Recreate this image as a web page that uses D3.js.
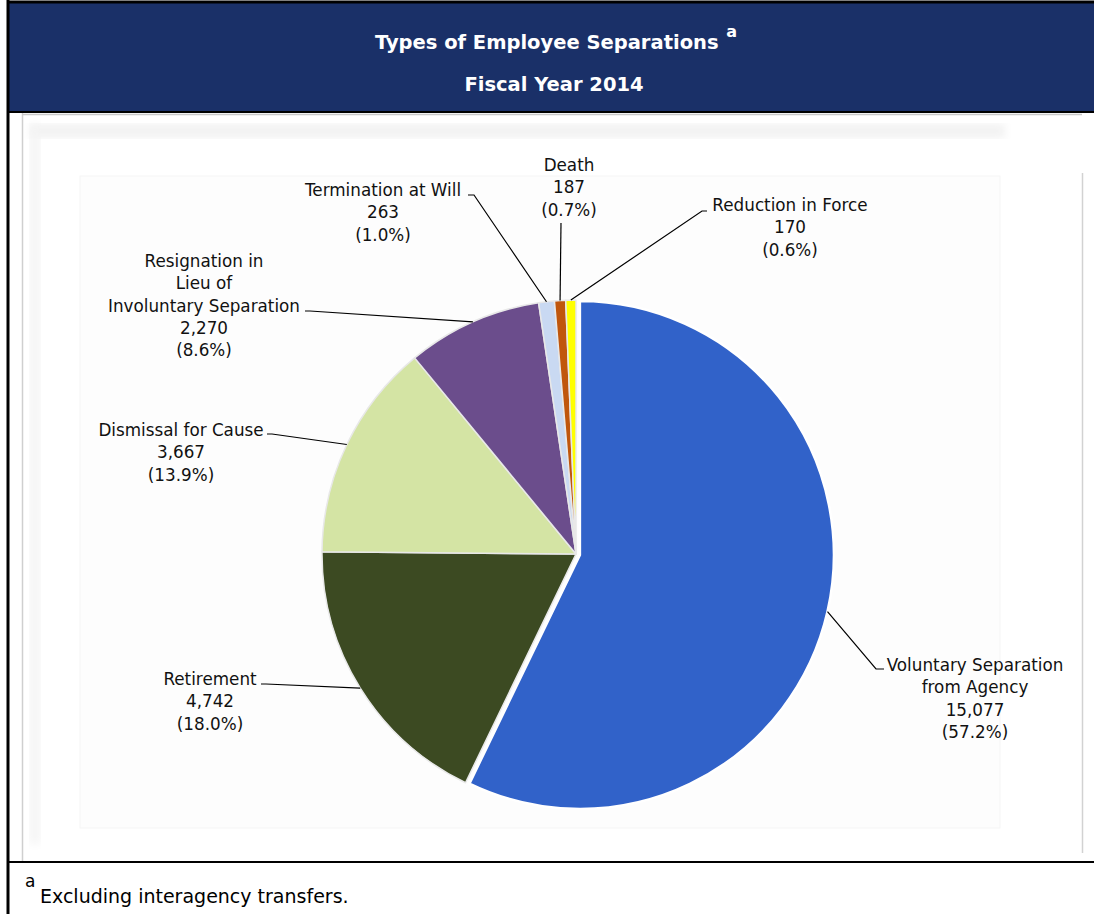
<!DOCTYPE html>
<html>
<head>
<meta charset="utf-8">
<script src="https://cdn.jsdelivr.net/npm/d3@7"></script>
<style>
  html, body { margin: 0; padding: 0; background: #ffffff; }
  svg { display: block; }
  text { font-family: "DejaVu Sans", sans-serif; }
</style>
</head>
<body>
<svg id="chart" width="1094" height="914"></svg>
<script>
// Separation types, FY 2014 (clockwise from 12 o'clock)
const categories = [
  ["Voluntary Separation", "from Agency"],
  ["Retirement"],
  ["Dismissal for Cause"],
  ["Resignation in", "Lieu of", "Involuntary Separation"],
  ["Termination at Will"],
  ["Death"],
  ["Reduction in Force"]
];
const counts = [15077, 4742, 3667, 2270, 263, 187, 170];
const percentLabels = ["57.2%", "18.0%", "13.9%", "8.6%", "1.0%", "0.7%", "0.6%"];
const sliceColors = ["#3162c9", "#3c4a22", "#d4e4a4", "#6b4d8c", "#c9d9f2", "#c0560c", "#ffff00"];

// Label placement: text centre, first line y, leader elbow
const labelLayout = [
  { cx: 975, y: 665, ex: 884, ey: 669, lx: 876, ly: 669 },
  { cx: 210, y: 679, ex: 261, ey: 684, lx: 266, ly: 684 },
  { cx: 181, y: 430, ex: 267, ey: 434, lx: 272, ly: 434 },
  { cx: 204, y: 261, ex: 305, ey: 311, lx: 310, ly: 311 },
  { cx: 383, y: 190, ex: 468, ey: 195, lx: 474, ly: 195 },
  { cx: 569, y: 165, ex: 561, ey: 223, lx: 561, ly: 223 },
  { cx: 790, y: 205, ex: 707, ey: 211, lx: 702, ly: 211 }
];

const svg = d3.select("#chart");
const W = 1094, H = 914;
const fmt = d3.format(",");

// ---- frame ----
const defs = svg.append("defs");
const blur = defs.append("filter").attr("id", "soft").attr("x", "-5%").attr("y", "-5%")
  .attr("width", "110%").attr("height", "110%");
blur.append("feGaussianBlur").attr("stdDeviation", 4);

svg.append("rect").attr("x", 0).attr("y", 0).attr("width", W).attr("height", H).attr("fill", "#ffffff");

// faint chart-area panels
svg.append("rect").attr("x", 30).attr("y", 124).attr("width", 975).attr("height", 14)
  .attr("fill", "#f2f2f2").attr("filter", "url(#soft)");
svg.append("rect").attr("x", 30).attr("y", 124).attr("width", 10).attr("height", 720)
  .attr("fill", "#f4f4f4").attr("filter", "url(#soft)");
svg.append("rect").attr("x", 80).attr("y", 176).attr("width", 920).attr("height", 652)
  .attr("fill", "#fdfdfd").attr("stroke", "#f5f5f5").attr("stroke-width", 1);

// inner grey outline
svg.append("line").attr("x1", 22.5).attr("x2", 22.5).attr("y1", 113).attr("y2", 862)
  .attr("stroke", "#cfcfcf").attr("stroke-width", 1.5);
svg.append("line").attr("x1", 22).attr("x2", 1082).attr("y1", 114.5).attr("y2", 114.5)
  .attr("stroke", "#c8c8c8").attr("stroke-width", 1.5);
svg.append("line").attr("x1", 1082.5).attr("x2", 1082.5).attr("y1", 173).attr("y2", 853)
  .attr("stroke", "#d2d2d2").attr("stroke-width", 1.5);

// navy header
svg.append("rect").attr("x", 8).attr("y", 2).attr("width", W - 8).attr("height", 110)
  .attr("fill", "#1a3068");
svg.append("line").attr("x1", 8).attr("x2", W).attr("y1", 2).attr("y2", 2)
  .attr("stroke", "#000").attr("stroke-width", 3);
svg.append("line").attr("x1", 8).attr("x2", W).attr("y1", 112).attr("y2", 112)
  .attr("stroke", "#000").attr("stroke-width", 2);
svg.append("line").attr("x1", 8).attr("x2", 8).attr("y1", 0).attr("y2", H)
  .attr("stroke", "#000").attr("stroke-width", 3);
svg.append("line").attr("x1", 8).attr("x2", W).attr("y1", 862).attr("y2", 862)
  .attr("stroke", "#000").attr("stroke-width", 2);

const title = svg.append("text").attr("x", 556).attr("y", 49).attr("text-anchor", "middle")
  .attr("fill", "#ffffff").attr("font-weight", "bold").attr("font-size", 19.5);
title.append("tspan").text("Types of Employee Separations ");
title.append("tspan").attr("font-size", 16).attr("dx", 1).attr("dy", -12).text("a");
svg.append("text").attr("x", 554).attr("y", 91).attr("text-anchor", "middle")
  .attr("fill", "#ffffff").attr("font-weight", "bold").attr("font-size", 19.5)
  .text("Fiscal Year 2014");

// footnote
svg.append("text").attr("x", 25).attr("y", 887).attr("font-size", 17).attr("fill", "#000").text("a");
svg.append("text").attr("x", 40).attr("y", 903).attr("font-size", 19).attr("fill", "#000")
  .text("Excluding interagency transfers.");

// ---- pie ----
const cx = 576, cy = 554, R = 254;
const pie = d3.pie().sort(null).value(d => d);
const arcs = pie(counts);
const arc = d3.arc().innerRadius(0).outerRadius(R);
const edge = d3.arc().innerRadius(R).outerRadius(R);

const g = svg.append("g").attr("transform", `translate(${cx},${cy})`);

// the largest slice is pulled out slightly
const explode = i => {
  if (i !== 0) return [0, 0];
  const a = (arcs[i].startAngle + arcs[i].endAngle) / 2;
  return [Math.sin(a) * 4, -Math.cos(a) * 4];
};

g.selectAll("path.slice").data(arcs).join("path")
  .attr("class", "slice")
  .attr("d", arc)
  .attr("transform", (d, i) => `translate(${explode(i)})`)
  .attr("fill", (d, i) => sliceColors[i])
  .attr("stroke", (d, i) => i === 0 ? "#ffffff" : "#e8e8e8")
  .attr("stroke-width", (d, i) => i === 0 ? 2.5 : 1.5)
  .attr("stroke-linejoin", "round");

// ---- leaders ----
arcs.forEach((d, i) => {
  const L = labelLayout[i];
  const c = edge.centroid(d);
  const off = explode(i);
  const px = cx + c[0] + off[0], py = cy + c[1] + off[1];
  svg.append("polyline")
    .attr("points", `${L.ex},${L.ey} ${L.lx},${L.ly} ${px},${py}`)
    .attr("fill", "none").attr("stroke", "#000").attr("stroke-width", 1.2);
});

// ---- labels ----
const lineH = 22.3;
arcs.forEach((d, i) => {
  const L = labelLayout[i];
  const lines = categories[i].concat([fmt(counts[i]), "(" + percentLabels[i] + ")"]);
  const t = svg.append("text").attr("text-anchor", "middle").attr("font-size", 16.8).attr("fill", "#111");
  lines.forEach((s, k) => {
    t.append("tspan").attr("x", L.cx).attr("y", L.y + 6 + k * lineH).text(s);
  });
});
</script>
</body>
</html>
